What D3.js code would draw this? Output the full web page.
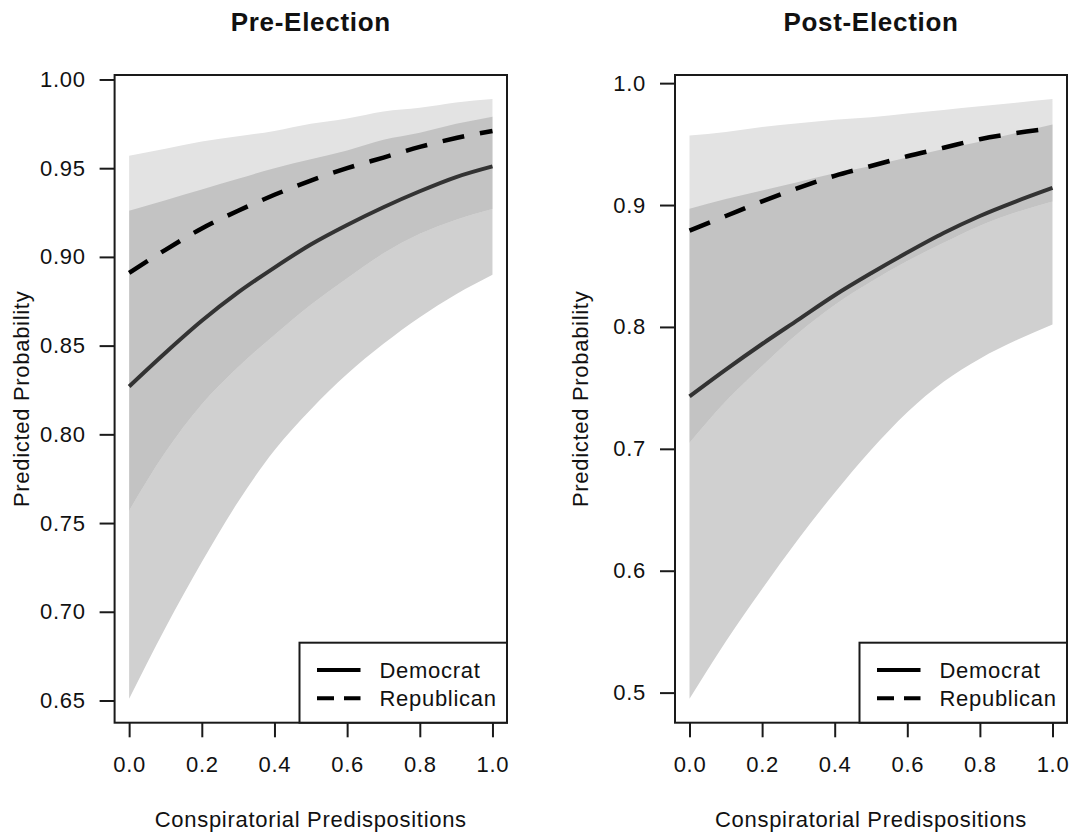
<!DOCTYPE html>
<meta charset="utf-8">
<head>
  <script src="https://d3js.org/d3.v7.min.js"></script>
  <style>
    body {
      margin: 0;
      background: #fff;
    }

    text {
      font-family: "Liberation Sans", Arial, sans-serif;
      fill: #111;
      letter-spacing: 0.7px;
    }
  </style>
</head>

<body>
  <script>
    // conspiratorial predispositions (x)
    var xVals = [0, 0.1, 0.2, 0.3, 0.4, 0.5, 0.6, 0.7, 0.8, 0.9, 1.0];

    // pre-election predicted probabilities
    var preDemFit = [0.827, 0.846, 0.864, 0.880, 0.894, 0.907, 0.918, 0.928, 0.937, 0.945, 0.951];
    var preDemLow = [0.651, 0.691, 0.728, 0.762, 0.791, 0.814, 0.834, 0.851, 0.866, 0.879, 0.890];
    var preDemHigh = [0.926, 0.932, 0.938, 0.944, 0.950, 0.955, 0.960, 0.966, 0.970, 0.975, 0.979];
    var preRepFit = [0.891, 0.904, 0.916, 0.926, 0.935, 0.943, 0.950, 0.956, 0.962, 0.967, 0.971];
    var preRepLow = [0.757, 0.790, 0.817, 0.838, 0.856, 0.873, 0.888, 0.902, 0.913, 0.921, 0.927];
    var preRepHigh = [0.957, 0.961, 0.965, 0.968, 0.971, 0.975, 0.978, 0.982, 0.984, 0.987, 0.989];

    // post-election predicted probabilities
    var postDemFit = [0.743, 0.765, 0.786, 0.806, 0.826, 0.844, 0.861, 0.877, 0.891, 0.903, 0.914];
    var postDemLow = [0.495, 0.542, 0.585, 0.626, 0.664, 0.699, 0.730, 0.755, 0.774, 0.789, 0.802];
    var postDemHigh = [0.897, 0.905, 0.912, 0.919, 0.926, 0.932, 0.939, 0.946, 0.952, 0.959, 0.966];
    var postRepFit = [0.879, 0.891, 0.903, 0.914, 0.924, 0.932, 0.940, 0.947, 0.954, 0.959, 0.963];
    var postRepLow = [0.705, 0.739, 0.768, 0.795, 0.818, 0.837, 0.854, 0.869, 0.883, 0.894, 0.903];
    var postRepHigh = [0.957, 0.960, 0.964, 0.967, 0.970, 0.972, 0.975, 0.978, 0.981, 0.984, 0.987];

    // tick labels
    var xTicks = [0, 0.2, 0.4, 0.6, 0.8, 1.0];
    var preYTicks = [0.65, 0.70, 0.75, 0.80, 0.85, 0.90, 0.95, 1.00];
    var postYTicks = [0.5, 0.6, 0.7, 0.8, 0.9, 1.0];

    var legendLabels = ["Democrat", "Republican"];
    var titles = ["Pre-Election", "Post-Election"];
    var xLabel = "Conspiratorial Predispositions";
    var yLabel = "Predicted Probability";

    var width = 1072,
      height = 837;

    var plotTop = 75,
      plotBottom = 722.7;

    var colors = {
      repOnly: "#e3e3e3",
      demOnly: "#d0d0d0",
      both: "#c3c3c3",
      demLine: "#333333",
      repLine: "#000000",
      frame: "#1a1a1a"
    };

    function rows(fit, low, high) {
      return xVals.map(function (x, i) {
        return { x: x, fit: fit[i], low: low[i], high: high[i] };
      });
    }

    var panels = [
      {
        id: "pre", title: titles[0], left: 114.6, right: 507,
        yTicks: preYTicks, fmt: d3.format(".2f"), labelX: 29,
        dem: rows(preDemFit, preDemLow, preDemHigh),
        rep: rows(preRepFit, preRepLow, preRepHigh)
      },
      {
        id: "post", title: titles[1], left: 675, right: 1067,
        yTicks: postYTicks, fmt: d3.format(".1f"), labelX: 588,
        dem: rows(postDemFit, postDemLow, postDemHigh),
        rep: rows(postRepFit, postRepLow, postRepHigh)
      }
    ];

    var svg = d3.select("body")
      .append("svg")
      .attr("width", width)
      .attr("height", height);

    var defs = svg.append("defs");

    panels.forEach(function (p) {
      var all = p.dem.concat(p.rep);
      var yMin = d3.min(all, function (d) { return d.low; });
      var yMax = d3.max(all, function (d) { return d.high; });
      var pad = (yMax - yMin) * 0.04;

      // R style: 4% padding on both axes
      var x = d3.scaleLinear().domain([-0.04, 1.04]).range([p.left, p.right]);
      var y = d3.scaleLinear().domain([yMin - pad, yMax + pad]).range([plotBottom, plotTop]);

      var band = d3.area()
        .x(function (d) { return x(d.x); })
        .y0(function (d) { return y(d.low); })
        .y1(function (d) { return y(d.high); })
        .curve(d3.curveMonotoneX);

      var fitLine = d3.line()
        .x(function (d) { return x(d.x); })
        .y(function (d) { return y(d.fit); })
        .curve(d3.curveMonotoneX);

      var g = svg.append("g").attr("class", "panel-" + p.id);

      defs.append("clipPath")
        .attr("id", "demclip-" + p.id)
        .append("path")
        .attr("d", band(p.dem));

      // confidence bands
      g.append("path").attr("d", band(p.dem)).style("fill", colors.demOnly);
      g.append("path").attr("d", band(p.rep)).style("fill", colors.repOnly);
      g.append("path")
        .attr("d", band(p.rep))
        .attr("clip-path", "url(#demclip-" + p.id + ")")
        .style("fill", colors.both);

      // fitted lines
      g.append("path")
        .attr("d", fitLine(p.dem))
        .style("fill", "none")
        .style("stroke", colors.demLine)
        .style("stroke-width", 4);

      g.append("path")
        .attr("d", fitLine(p.rep))
        .style("fill", "none")
        .style("stroke", colors.repLine)
        .style("stroke-width", 4.5)
        .style("stroke-dasharray", "22,16");

      // axes
      var yAxis = g.append("g")
        .attr("transform", "translate(" + p.left + ",0)")
        .call(d3.axisLeft(y).tickValues(p.yTicks).tickFormat(p.fmt)
          .tickSize(15).tickSizeOuter(0).tickPadding(14));

      var xAxis = g.append("g")
        .attr("transform", "translate(0," + plotBottom + ")")
        .call(d3.axisBottom(x).tickValues(xTicks).tickFormat(d3.format(".1f"))
          .tickSize(14.6).tickSizeOuter(0).tickPadding(18.6));

      [yAxis, xAxis].forEach(function (a) {
        a.select(".domain").remove();
        a.attr("font-size", null).attr("font-family", null);
        a.selectAll("line").style("stroke", colors.frame).style("stroke-width", 2);
        a.selectAll("text").style("font-size", "22px").style("fill", "#111");
      });

      // plot frame
      g.append("rect")
        .attr("x", p.left)
        .attr("y", plotTop)
        .attr("width", p.right - p.left)
        .attr("height", plotBottom - plotTop)
        .style("fill", "none")
        .style("stroke", colors.frame)
        .style("stroke-width", 2);

      // legend
      var lg = g.append("g").attr("transform", "translate(" + (p.right - 207.5) + ",642.7)");
      lg.append("rect")
        .attr("width", 207.5)
        .attr("height", plotBottom - 642.7)
        .style("fill", "#fff")
        .style("stroke", colors.frame)
        .style("stroke-width", 2);

      legendLabels.forEach(function (lab, i) {
        var ly = 27.3 + i * 28.3;
        lg.append("line")
          .attr("x1", 17.5).attr("x2", 61)
          .attr("y1", ly).attr("y2", ly)
          .style("stroke", "#000")
          .style("stroke-width", 4)
          .style("stroke-dasharray", i === 1 ? "17,10" : null);
        lg.append("text")
          .attr("x", 80)
          .attr("y", ly)
          .attr("dy", "0.36em")
          .style("font-size", "22px")
          .text(lab);
      });

      // titles and axis labels
      g.append("text")
        .attr("x", (p.left + p.right) / 2)
        .attr("y", 31)
        .attr("text-anchor", "middle")
        .style("font-size", "26px")
        .style("font-weight", "bold")
        .text(p.title);

      g.append("text")
        .attr("x", (p.left + p.right) / 2)
        .attr("y", 826.5)
        .attr("text-anchor", "middle")
        .style("font-size", "22px")
        .text(xLabel);

      g.append("text")
        .attr("transform", "translate(" + p.labelX + "," + ((plotTop + plotBottom) / 2) + ") rotate(-90)")
        .attr("text-anchor", "middle")
        .style("font-size", "22px")
        .text(yLabel);
    });
  </script>
</body>

</html>
